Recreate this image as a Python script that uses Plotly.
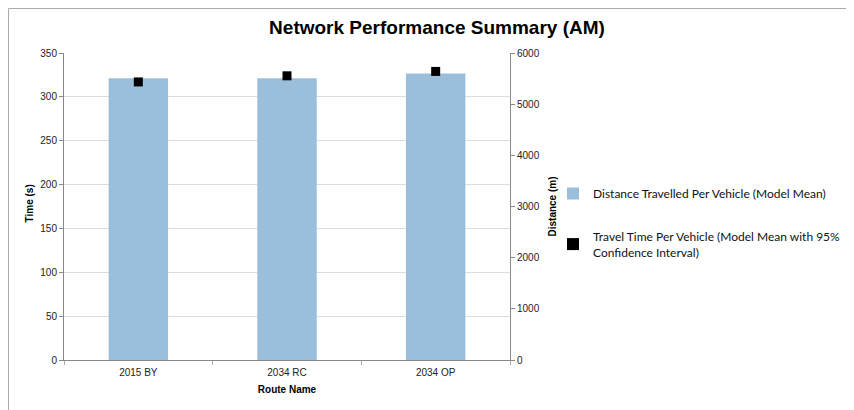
import plotly.graph_objects as go

routes = ["2015 BY", "2034 RC", "2034 OP"]
distance_m = [5505, 5505, 5600]
time_s = [317, 324, 329]

fig = go.Figure()
fig.add_trace(go.Bar(
    x=routes, y=distance_m, yaxis="y",
    name="Distance Travelled Per Vehicle (Model Mean)",
    legendgroup="a",
    marker=dict(color="#9BBEDB", line=dict(width=0)),
))
fig.add_trace(go.Scatter(
    x=routes, y=time_s, yaxis="y2", mode="markers",
    name="Travel Time Per Vehicle (Model Mean with 95%<br>Confidence Interval)",
    legendgroup="b",
    marker=dict(symbol="square", size=9, color="black"),
))

# page body has an 8px margin, so everything is shifted by -8px to compensate
off = 8
axis_font = dict(family="Liberation Sans, Arial, sans-serif", size=10, color="#222")
title_font = dict(family="Liberation Sans, Arial", size=10, color="black")
fig.update_layout(
    width=854, height=410,
    paper_bgcolor="white", plot_bgcolor="rgba(0,0,0,0)",
    margin=dict(l=64 - off, r=344 + off, t=53 - off, b=50 + off, autoexpand=False),
    bargap=0.6,
    title=dict(text="<b>Network Performance Summary (AM)</b>", x=(437 - off) / 854,
               xanchor="center", y=1 - (27 - off) / 410, yanchor="middle",
               font=dict(family="Liberation Sans, Arial, sans-serif", size=19, color="black")),
    xaxis=dict(
        title=dict(text="<b>Route Name</b>", font=title_font, standoff=8),
        tickfont=axis_font, showline=True, linecolor="#888", linewidth=1,
        ticks="outside", tickson="boundaries", ticklen=4, tickcolor="#aaa",
        ticklabelstandoff=3,
        showgrid=False, automargin=False,
    ),
    yaxis=dict(
        title=dict(text="<b>Distance (m)</b>", font=title_font, standoff=10),
        range=[0, 6000], dtick=1000, tickfont=axis_font,
        side="right",
        showline=True, linecolor="#888", linewidth=1,
        ticks="outside", ticklen=4, tickcolor="#888",
        showgrid=False, zeroline=False, automargin=False,
    ),
    yaxis2=dict(
        range=[0, 350], dtick=50, tickfont=axis_font,
        overlaying="y", side="left",
        showline=True, linecolor="#888", linewidth=1,
        ticks="outside", ticklen=4, tickcolor="#888",
        showgrid=True, gridcolor="#DDDDDD", gridwidth=1, zeroline=False,
        automargin=False,
    ),
    annotations=[dict(text="<b>Time (s)</b>", textangle=-90, xref="paper", yref="paper",
                      x=(29 - 64) / 446, y=0.51, xanchor="center", yanchor="middle",
                      showarrow=False, font=title_font)],
    legend=dict(
        x=(553 - 64) / 446, y=(360 - 223) / 307, xanchor="left", yanchor="middle",
        font=dict(family="Lato, Noto Sans, sans-serif", size=12, color="#111"),
        itemsizing="constant", tracegroupgap=24, traceorder="grouped",
        bgcolor="rgba(0,0,0,0)", itemwidth=30,
    ),
    shapes=[dict(type="rect", xref="paper", yref="paper",
                 x0=(off + 0.5 - 64) / 446, x1=(950 - 64) / 446,
                 y0=(360 - 440) / 307, y1=(360 - off - 0.5) / 307,
                 line=dict(color="#AAAAAA", width=1), fillcolor="rgba(0,0,0,0)", layer="below")],
)

fig.write_html("out.html")
